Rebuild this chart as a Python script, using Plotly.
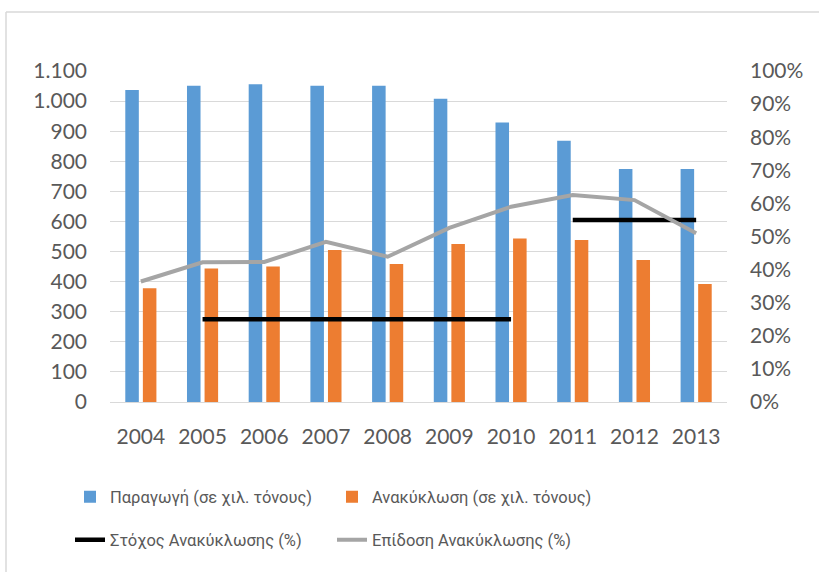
import plotly.graph_objects as go

years = ["2004", "2005", "2006", "2007", "2008", "2009", "2010", "2011", "2012", "2013"]
production = [1037, 1051, 1056, 1051, 1051, 1008, 929, 868, 774, 774]
recycling = [378, 444, 450, 505, 459, 525, 543, 538, 472, 392]
target_pct = [None, 25, 25, 25, 25, 25, 25, 55, 55, 55]
performance_pct = [36.4, 42.2, 42.3, 48.4, 43.9, 52.6, 59.0, 62.5, 61.0, 51.0]
pct_ticks = list(range(0, 101, 10))
pct_labels = [f"{v}%" for v in pct_ticks]

names = ["Παραγωγή (σε χιλ. τόνους)", "Ανακύκλωση (σε χιλ. τόνους)",
         "Στόχος Ανακύκλωσης (%)", "Επίδοση Ανακύκλωσης (%)"]

FONT = "Lato"
LEGFONT = "Roboto"
TXT = "#595959"

fig = go.Figure()
fig.add_trace(go.Bar(x=years, y=production, name=names[0], marker_color="#5b9bd5",
                     marker_line_width=0, legend="legend", showlegend=True))
fig.add_trace(go.Bar(x=years, y=recycling, name=names[1], marker_color="#ed7d31",
                     marker_line_width=0, legend="legend2", showlegend=True))

# split target into constant segments
seg_x, seg_y = [], []
prev = None
for yr, v in zip(years, target_pct):
    if v is None:
        continue
    if prev is not None and v != prev:
        seg_x.append(None)
        seg_y.append(None)
    seg_x.append(yr)
    seg_y.append(v)
    prev = v

fig.add_trace(go.Scatter(x=seg_x, y=seg_y, name=names[2], mode="lines",
                         line=dict(color="#000000", width=4.5), yaxis="y2",
                         connectgaps=False, legend="legend3", showlegend=True))
fig.add_trace(go.Scatter(x=years, y=performance_pct, name=names[3], mode="lines",
                         line=dict(color="#a5a5a5", width=4), yaxis="y2",
                         legend="legend4", showlegend=True))

L, R, T, B = 110, 92, 71, 170
W, H = 819, 572
pw, ph = W - L - R, H - T - B

def px2paper_x(p):
    return (p - L) / pw

def px2paper_y(p):
    return (H - B - p) / ph

leg_common = dict(orientation="h", xanchor="left", yanchor="middle",
                  font=dict(size=16.5, color=TXT, family=LEGFONT),
                  bgcolor="rgba(0,0,0,0)")

fig.update_layout(
    width=W, height=H,
    showlegend=True,
    margin=dict(l=L, r=R, t=T, b=B),
    paper_bgcolor="white", plot_bgcolor="white",
    separators=",.",
    barmode="group", bargap=0.43, bargroupgap=0.23,
    font=dict(family=FONT, color=TXT, size=21),
    xaxis=dict(type="category", showgrid=False, showline=False, ticks="",
               tickfont=dict(size=21, color=TXT), ticklabelstandoff=20),
    yaxis=dict(range=[0, 1100], tickvals=list(range(0, 1101, 100)), tickformat=",d",
               showgrid=True, gridcolor="#d9d9d9", gridwidth=1.3, zeroline=True,
               zerolinecolor="#d9d9d9", zerolinewidth=1.3, showline=False, ticks="",
               tickfont=dict(size=21, color=TXT), ticklabelstandoff=22),
    yaxis2=dict(range=[0, 100], tickvals=pct_ticks, ticktext=pct_labels,
                overlaying="y", side="right", showgrid=False, zeroline=False,
                showline=False, ticks="", tickfont=dict(size=21, color=TXT),
                ticklabelstandoff=22),
    legend=dict(x=px2paper_x(70), y=px2paper_y(497), **leg_common),
    legend2=dict(x=px2paper_x(332), y=px2paper_y(497), **leg_common),
    legend3=dict(x=px2paper_x(70), y=px2paper_y(540), **leg_common),
    legend4=dict(x=px2paper_x(332), y=px2paper_y(540), **leg_common),
    shapes=[
        dict(type="line", xref="paper", yref="paper",
             x0=px2paper_x(6), x1=px2paper_x(W + 5), y0=px2paper_y(12), y1=px2paper_y(12),
             line=dict(color="#d9d9d9", width=1.5)),
        dict(type="line", xref="paper", yref="paper",
             x0=px2paper_x(6), x1=px2paper_x(6), y0=px2paper_y(12), y1=px2paper_y(H + 5),
             line=dict(color="#d9d9d9", width=1.5)),
    ],
)

fig.write_html("out.html")
